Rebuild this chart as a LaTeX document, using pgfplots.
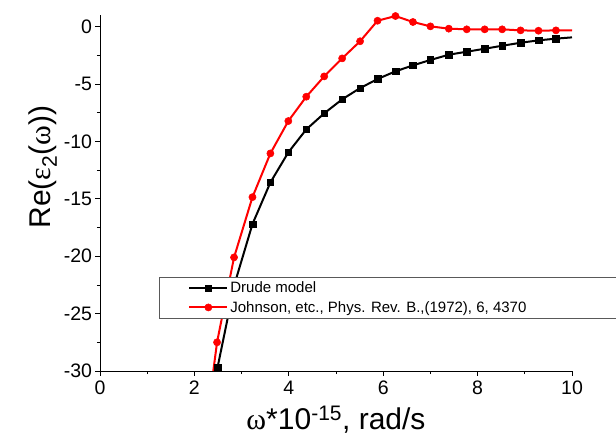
\documentclass[border=0pt]{standalone}
\usepackage{fontspec}
\setmainfont{Liberation Sans}
\newfontfamily\gr{Liberation Serif}
\usepackage{pgfplots}
\pgfplotsset{compat=1.18}
\begin{document}
\begin{tikzpicture}
\begin{axis}[
  at={(0,0)}, anchor=south west,
  scale only axis, width=472bp, height=356bp,
  xmin=0, xmax=10, ymin=-30, ymax=1.02,
  axis lines=left, axis line style={-, line width=0.9bp},
  xtick={0,2,...,10}, ytick={-30,-25,...,0},
  minor x tick num=1, minor y tick num=1,
  tick align=outside, major tick length=4.5bp, minor tick length=3bp,
  tick style={black, line width=0.8bp},
  /pgf/number format/assume math mode=true,
  ticklabel style={font=\fontsize{19.5bp}{21bp}\selectfont},
  xticklabel style={yshift=-2bp},
  xlabel={{\gr ω}*10\textsuperscript{-15}, rad/s},
  ylabel={Re({\gr ε}\textsubscript{2}({\gr ω}))},
  label style={font=\fontsize{30bp}{34bp}\selectfont},
  xlabel style={yshift=-4bp},
  ylabel style={at={(ticklabel cs:0.573)}},
  clip=false,
  legend style={at={(rel axis cs:0.125,0.264)}, anchor=north west,
    draw=black!65, line width=0.8bp, fill=white,
    font=\fontsize{15bp}{18bp}\selectfont,
    inner xsep=29bp, inner ysep=2.5bp, row sep=3bp},
  legend cell align=left,
  legend image code/.code={\draw[mark repeat=2,mark phase=2,#1] plot coordinates {(0bp,0bp) (19bp,0bp) (38bp,0bp)};},
]
\addplot[black, line width=2bp, mark=square*, mark size=3.3bp, mark options={solid, line width=0.5bp}] coordinates {
(2.49,-29.7) (2.86,-22.3) (3.23,-17.2) (3.61,-13.57) (3.99,-10.95) (4.37,-8.95)
(4.75,-7.55) (5.13,-6.33) (5.51,-5.35) (5.88,-4.56) (6.26,-3.89) (6.63,-3.37)
(7.00,-2.90) (7.39,-2.44) (7.77,-2.18) (8.15,-1.92) (8.52,-1.66) (8.91,-1.40)
(9.29,-1.19) (9.66,-1.04)
};
\addlegendentry{Drude model}
\addplot[red, line width=2bp, mark=*, mark size=3.6bp, mark options={solid, line width=0.5bp}] coordinates {
(2.48,-27.5) (2.84,-20.1) (3.23,-14.85) (3.61,-11.04) (3.99,-8.22) (4.37,-6.10)
(4.75,-4.33) (5.13,-2.76) (5.51,-1.27) (5.88,0.52) (6.26,0.93) (6.63,0.41)
(7.00,0.03) (7.39,-0.17) (7.77,-0.23) (8.15,-0.23) (8.52,-0.23) (8.91,-0.32)
(9.29,-0.35) (9.66,-0.32)
};
\addlegendentry{Johnson, etc., Phys. Rev. B.,(1972), 6, 4370\hspace*{80bp}}
\addplot[black, line width=2bp, forget plot] coordinates {(9.66,-1.04) (10,-0.93)};
\addplot[black, line width=2bp, forget plot] coordinates {(2.475,-30) (2.49,-29.7)};
\addplot[red, line width=2bp, forget plot] coordinates {(9.66,-0.32) (10,-0.33)};
\addplot[red, line width=2bp, forget plot] coordinates {(2.40,-30) (2.48,-27.5)};
\end{axis}
\pgfresetboundingbox
\path[use as bounding box] (-100bp,-66bp) rectangle (516bp,371bp);
\end{tikzpicture}
\end{document}
